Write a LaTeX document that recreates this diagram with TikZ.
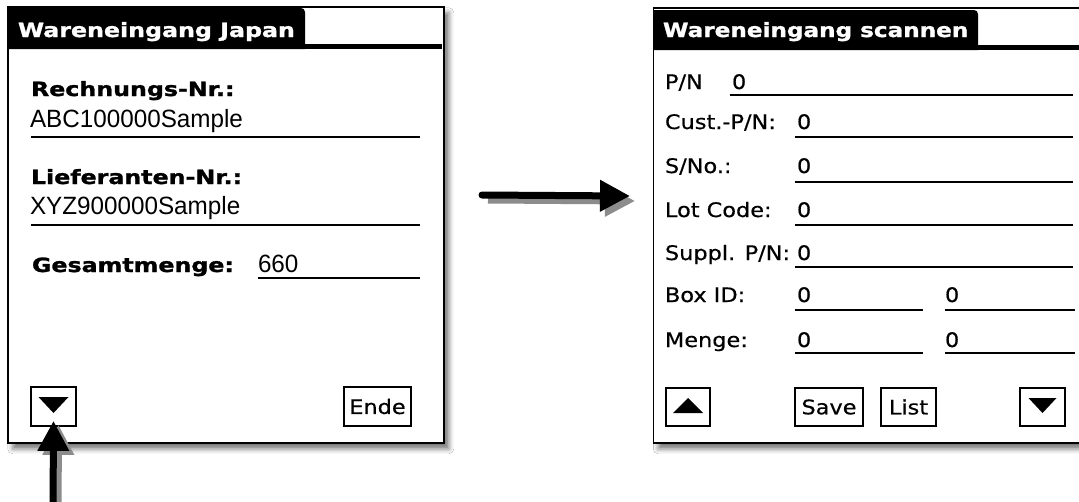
\documentclass[tikz,border=0pt]{standalone}
\usepackage{graphicx}
\usepackage{fontspec}
\setmainfont{DejaVu Sans}
\newfontfamily\pbf[FakeBold=1.2]{DejaVu Sans}
\newfontfamily\preg[FakeBold=0.5]{DejaVu Sans}
\newfontfamily\arialfont{Liberation Sans}
\usetikzlibrary{shadows.blur,arrows.meta,calc}

% handheld screen fonts
\newcommand\palmbold[2][1.21]{{\pbf\bfseries\fontsize{19.6}{23}\selectfont\scalebox{#1}[1]{#2}}}
\newcommand\palm[1]{{\preg\fontsize{20}{23}\selectfont\scalebox{1.12}[1]{#1}}}
\newcommand\fieldtext[1]{{\arialfont\fontsize{25}{29}\selectfont\scalebox{0.97}[1]{#1}}}

\tikzset{
  panel/.style={draw=black, line width=1.6pt, fill=white, rectangle, inner sep=0pt,
    anchor=north west,
    blur shadow={shadow xshift=5pt, shadow yshift=-6pt, shadow blur radius=5pt, shadow opacity=55}},
  lbl/.style={anchor=base west, inner sep=0pt, outer sep=0pt},
  titletext/.style={lbl, text=white},
  uline/.style={line width=2pt, black},
  btn/.style={draw=black, line width=1.8pt, fill=white, inner sep=0pt, rectangle},
  tri/.style={fill=black},
  bigarrow/.style={line width=7pt, line cap=round, -{Triangle[length=30pt,width=30pt]}},
  arrowshadow/.style={bigarrow, draw=black!45, line cap=butt}
}

\begin{document}
\begin{tikzpicture}[x=1pt,y=-1pt]
\clip (0,0) rectangle (1079,501);
\fill[white] (0,0) rectangle (1079,501);

% ---------- first screen ----------
\node[panel, minimum width=436pt, minimum height=436pt] (left) at (7,6) {};
\fill (8.5,49) -- (8.5,8) [rounded corners=4pt] -- (305,8) [sharp corners] -- (305,49) -- cycle;
\fill (8.5,44) rectangle (442,49);
\node[titletext] (ltitle) at (18,37) {\palmbold{Wareneingang Japan}};

\node[lbl] (rechLbl) at (31,96) {\palmbold{Rechnungs-Nr.:}};
\node[lbl] (rechVal) at (30,127) {\fieldtext{ABC100000Sample}};
\draw[uline] (31,137) -- (420,137);

\node[lbl] (liefLbl) at (31,184) {\palmbold{Lieferanten-Nr.:}};
\node[lbl] (liefVal) at (30,214) {\fieldtext{XYZ900000Sample}};
\draw[uline] (31,225) -- (420,225);

\node[lbl] (gesLbl) at (32,272) {\palmbold{Gesamtmenge:}};
\node[lbl] (gesVal) at (258,272) {\fieldtext{660}};
\draw[uline] (258,278) -- (420,278);

\node[btn, minimum width=45pt, minimum height=39pt] (downL) at (53.5,406.5) {};
\fill[tri] ($(downL.center)+(-15,-9.5)$) -- ($(downL.center)+(15,-9.5)$) -- ($(downL.center)+(0,6.5)$) -- cycle;
\node[btn, minimum width=67pt, minimum height=39pt] (ende) at (377.5,406.5) {\palm{Ende}};

% ---------- second screen ----------
\node[panel, minimum width=470pt, minimum height=435pt] (right) at (652.5,7) {};
\fill (654,50) -- (654,10) [rounded corners=4pt] -- (978,10) [sharp corners] -- (978,50) -- cycle;
\fill (654,45) rectangle (1090,50);
\node[titletext] (rtitle) at (663,37) {\palmbold[1.18]{Wareneingang scannen}};

\node[lbl] (pnL) at (665,89) {\palm{P/N}};
\node[lbl] (pnV) at (732,89) {\palm{0}};
\draw[uline] (730,95) -- (1073,95);

\node[lbl] (custL) at (665,129) {\palm{Cust.-P/N:}};
\node[lbl] (custV) at (797,129) {\palm{0}};
\draw[uline] (795,137) -- (1073,137);

\node[lbl] (snoL) at (665,173) {\palm{S/No.:}};
\node[lbl] (snoV) at (797,173) {\palm{0}};
\draw[uline] (795,182) -- (1073,182);

\node[lbl] (lotL) at (665,217) {\palm{Lot Code:}};
\node[lbl] (lotV) at (797,217) {\palm{0}};
\draw[uline] (795,225) -- (1073,225);

\node[lbl] (supL) at (665,260) {\palm{Suppl. P/N:}};
\node[lbl] (supV) at (797,260) {\palm{0}};
\draw[uline] (795,267) -- (1073,267);

\node[lbl] (boxL) at (665,302) {\palm{Box ID:}};
\node[lbl] (boxV1) at (797,302) {\palm{0}};
\node[lbl] (boxV2) at (945,302) {\palm{0}};
\draw[uline] (795,310) -- (923,310);
\draw[uline] (945,310) -- (1075,310);

\node[lbl] (menL) at (665,347) {\palm{Menge:}};
\node[lbl] (menV1) at (797,347) {\palm{0}};
\node[lbl] (menV2) at (945,347) {\palm{0}};
\draw[uline] (795,353) -- (923,353);
\draw[uline] (945,353) -- (1075,353);

\node[btn, minimum width=44pt, minimum height=38pt] (upR) at (688,407) {};
\fill[tri] ($(upR.center)+(-15,6)$) -- ($(upR.center)+(15,6)$) -- ($(upR.center)+(0,-9)$) -- cycle;
\node[btn, minimum width=68pt, minimum height=38pt] (save) at (829,407) {\palm{Save}};
\node[btn, minimum width=55pt, minimum height=38pt] (list) at (908.5,407) {\palm{List}};
\node[btn, minimum width=45pt, minimum height=38pt] (downR) at (1042.5,407) {};
\fill[tri] ($(downR.center)+(-14,-9)$) -- ($(downR.center)+(14,-9)$) -- ($(downR.center)+(0,6)$) -- cycle;

% ---------- arrows ----------
\coordinate (hStart) at (482,195);
\coordinate (hTip) at (630,196);
\coordinate (uStart) at (53,515);
\coordinate (uTip) at ($(downL.south)+(0,-6)$);

\draw[arrowshadow] ($(hStart)+(6,5)$) -- ($(hTip)+(5,5)$);
\draw[arrowshadow] ($(uStart)+(5,4)$) -- ($(uTip)+(5,4)$);
\draw[bigarrow] (hStart) -- (hTip);
\draw[bigarrow] (uStart) -- (uTip);
\end{tikzpicture}
\end{document}
